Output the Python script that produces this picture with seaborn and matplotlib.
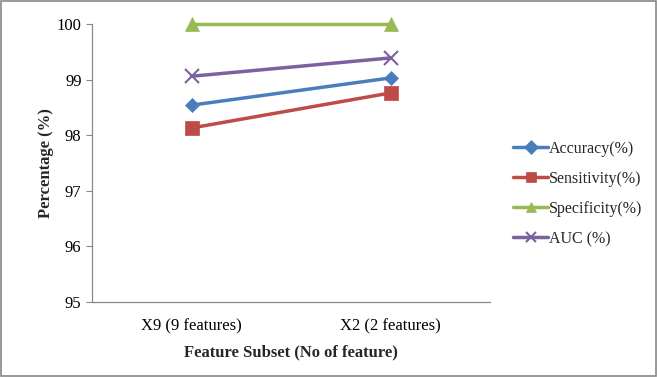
import matplotlib
matplotlib.use("Agg")
import matplotlib.pyplot as plt
import seaborn as sns
import pandas as pd
from matplotlib.patches import Rectangle

subsets = ["X9 (9 features)", "X2 (2 features)"]
accuracy = [98.54, 99.03]
sensitivity = [98.13, 98.76]
specificity = [100.0, 100.0]
auc = [99.06, 99.39]

series_names = ["Accuracy(%)", "Sensitivity(%)", "Specificity(%)", "AUC (%)"]
series_values = [accuracy, sensitivity, specificity, auc]
colors = ["#4A7EBB", "#BE4B48", "#98B954", "#7D60A0"]
markers = ["D", "s", "^", "x"]
marker_sizes = [7, 10, 10, 10]

rows = []
for name, vals in zip(series_names, series_values):
    for i, v in enumerate(vals):
        rows.append({"pos": i, "subset": subsets[i], "metric": name, "value": v})
df = pd.DataFrame(rows)

sns.set_style("white")
plt.rcParams["font.family"] = ["Liberation Serif", "DejaVu Serif"]

fig = plt.figure(figsize=(6.57, 3.77), dpi=100)
ax = fig.add_axes([92 / 657, 1 - 302 / 377, (490 - 92) / 657, (302 - 24) / 377])

for name, col, mk, ms in zip(series_names, colors, markers, marker_sizes):
    sub = df[df["metric"] == name]
    sns.lineplot(data=sub, x="pos", y="value", ax=ax, color=col, marker=mk,
                 markersize=ms, linewidth=2.5, label=name,
                 markeredgecolor=col, markeredgewidth=1.5 if mk == "x" else 0.5)
for ln in ax.get_lines():
    ln.set_clip_on(False)

ax.set_xlim(-0.5, 1.5)
ax.set_ylim(95, 100)
ax.set_yticks([95, 96, 97, 98, 99, 100])
ax.set_xticks([0, 1])
ax.set_xticklabels(subsets)
ax.tick_params(axis="both", labelsize=12, colors="black")
ax.tick_params(axis="y", direction="out", length=4, width=0.8, color="#888888", left=True)
ax.tick_params(axis="x", length=0, pad=12)

for side in ["top", "right"]:
    ax.spines[side].set_visible(False)
for side in ["left", "bottom"]:
    ax.spines[side].set_color("#888888")
    ax.spines[side].set_linewidth(0.9)

ax.set_xlabel("Feature Subset (No of feature)", fontsize=12, fontweight="bold", labelpad=7)
ax.set_ylabel("Percentage (%)", fontsize=12, fontweight="bold", labelpad=2)

leg = ax.legend(loc="center left", bbox_to_anchor=(499 / 657, 1 - 194 / 377),
                bbox_transform=fig.transFigure, frameon=False, fontsize=11.5,
                handlelength=2.15, handletextpad=0.1, labelspacing=0.88)
for h in leg.legend_handles:
    h.set_markersize(7)

fig.patches.append(Rectangle((0.002, 0.003), 0.996, 0.994, transform=fig.transFigure,
                             fill=False, edgecolor="#888888", linewidth=1.2))

fig.savefig("out.png", dpi=100)
